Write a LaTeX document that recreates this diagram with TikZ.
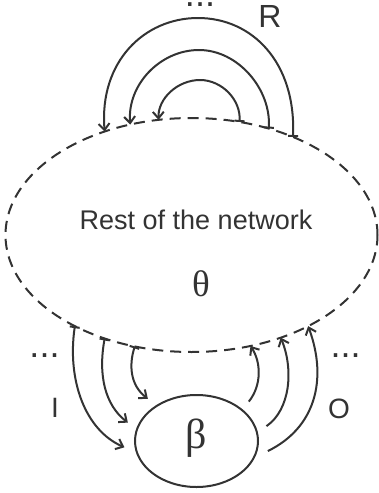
\documentclass[tikz,border=0pt]{standalone}
\usepackage{fontspec}
\setmainfont{Liberation Sans}
\newfontfamily\grk{Liberation Serif}
\usetikzlibrary{shapes.geometric,arrows.meta}
\definecolor{ink}{RGB}{51,51,51}
\begin{document}
\begin{tikzpicture}[x=1pt,y=-1pt,line width=2pt,color=ink,
  netshape/.style={ellipse,draw,dash pattern=on 11pt off 7pt,minimum width=372pt,minimum height=234pt,inner sep=0pt,outer sep=0pt},
  betashape/.style={ellipse,draw,minimum width=123pt,minimum height=92pt,inner sep=0pt,outer sep=11pt},
  lbl/.style={font=\fontsize{28}{28}\selectfont,inner sep=0pt,anchor=base},
  feed/.style={{Bar[width=10pt]}-{Straight Barb[length=6.5pt,width=11pt]}},
  emit/.style={-{Straight Barb[length=6.5pt,width=11pt]}}]
\useasboundingbox (0,0) rectangle (378,493);
% nodes
\node[netshape] (net) at (191.5,235) {};
\node[font=\fontsize{27}{27}\selectfont,inner sep=0pt,anchor=base] (rest) at (196,229) {Rest of the network};
\node[font=\grk\fontsize{37}{37}\selectfont,inner sep=0pt] (theta) at (201,283.5) {θ};
\node[betashape] (beta) at (196.5,441) {};
\node[font=\grk\fontsize{42}{42}\selectfont,inner sep=0pt] (betalbl) at (196,438.5) {β};
\node[lbl,font=\fontsize{32}{32}\selectfont] (R) at (270,27) {R};
\node[lbl] (I) at (55,417) {I};
\node[lbl] (O) at (339,418) {O};
\node[lbl,font=\fontsize{36}{36}\selectfont] (dtop) at (200,6) {...};
\node[lbl,font=\fontsize{36}{36}\selectfont] (dleft) at (44.5,357) {...};
\node[lbl,font=\fontsize{36}{36}\selectfont] (dright) at (345.5,357) {...};
% recurrent arcs
\draw[feed] (net.44) .. controls (296,62) and (252,18) .. (198,18) .. controls (144,18) and (99,62) .. (net.130.6);
\draw[feed] (net.54) .. controls (271,89) and (238,50) .. (199,50) .. controls (160,50) and (127,85) .. (net.119.5);
\draw[feed] (net.67) .. controls (241,100) and (222,80) .. (200,80) .. controls (178,80) and (158,98) .. (net.106);
% inputs
\draw[feed] (net.218.7) .. controls (67,380) and (85,430) .. (beta.185.3);
\draw[feed] (net.230.7) .. controls (98,375) and (105,405) .. (beta.165);
\draw[feed] (net.243.6) .. controls (129,365) and (130,385) .. (beta.139.8);
% outputs
\draw[emit] (beta.37.7) .. controls (262,385) and (261,362) .. (net.298);
\draw[emit] (beta.12.8) .. controls (290,410) and (294,370) .. (net.311.5);
\draw[emit] (beta.-8.2) .. controls (315,428) and (328,380) .. (net.322.5);
\end{tikzpicture}
\end{document}
